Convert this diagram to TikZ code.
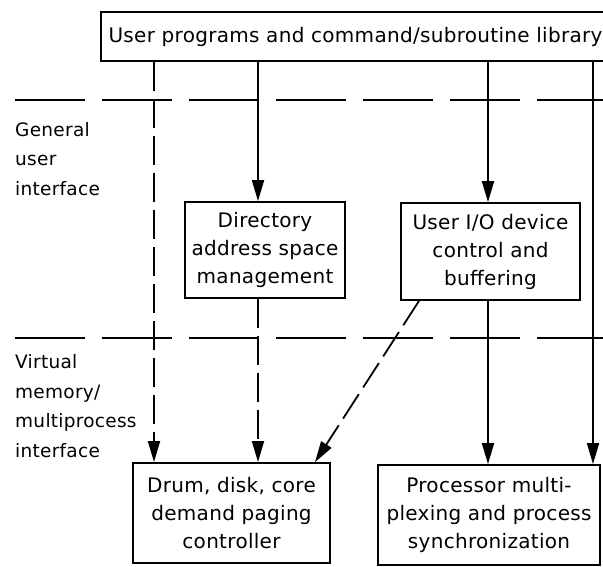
\documentclass[tikz,border=0pt]{standalone}
\usepackage{fontspec}
\setmainfont[LetterSpace=1.5]{DejaVu Sans}
\usetikzlibrary{positioning, arrows.meta}

\begin{document}
\begin{tikzpicture}[x=1pt, y=-1pt,
    font=\fontsize{20}{28}\selectfont,
    box/.style={draw, line width=1.8pt, align=center, inner sep=0pt},
    lvl/.style={anchor=base west, align=left, inner sep=0pt,
      font=\fontsize{18.5}{29.5}\selectfont},
    flow/.style={-{Triangle[length=21pt, width=12pt]}, line width=1.8pt},
    brk/.style={dash pattern=on 29pt off 8pt},
    sep/.style={line width=1.8pt, dash pattern=on 70pt off 17pt}]
    \useasboundingbox (0,0) rectangle (603,566);
    % --- boxes ---
    \node[box, minimum width=509pt, minimum height=49pt] (top) at (355.5,36.5)
      {User programs and command/subroutine library};
    \node[box, minimum width=160pt, minimum height=96pt] (dir) at (265,250)
      {Directory\\address space\\management};
    \node[box, minimum width=179pt, minimum height=97pt] (io) at (490.5,251.5)
      {User I/O device\\control and\\buffering};
    \node[box, minimum width=197pt, minimum height=100pt] (drum) at (231.5,513)
      {Drum, disk, core\\demand paging\\controller};
    \node[box, minimum width=222pt, minimum height=100pt] (proc) at (489,515)
      {Processor multi-\\plexing and process\\synchronization};
    % --- interface levels ---
    \draw[sep] (15,100) -- (603,100);
    \draw[sep] (15,338) -- (603,338);
    \node[lvl] (gen) at (15,195) {General\\user\\interface};
    \node[lvl] (virt) at (15,457) {Virtual\\memory/\\multiprocess\\interface};
    % --- columns ---
    \coordinate (c1) at (154,0);
    \coordinate (c2) at (258,0);
    \coordinate (c3) at (488,0);
    \coordinate (c4) at (593,0);
    \coordinate (dg) at (419,0);
    \coordinate (tp) at (315,0);
    % --- calls ---
    \draw[flow, brk] (top.south -| c1) -- (drum.north -| c1);
    \draw[flow] (top.south -| c2) -- (dir.north -| c2);
    \draw[flow, brk] (dir.south -| c2) -- (drum.north -| c2);
    \draw[flow] (top.south -| c3) -- (io.north -| c3);
    \draw[flow] (io.south -| c3) -- (proc.north -| c3);
    \draw[flow] (top.south -| c4) -- (proc.north -| c4);
    \draw[flow, brk] (io.south -| dg) -- (drum.north -| tp);
\end{tikzpicture}
\end{document}
